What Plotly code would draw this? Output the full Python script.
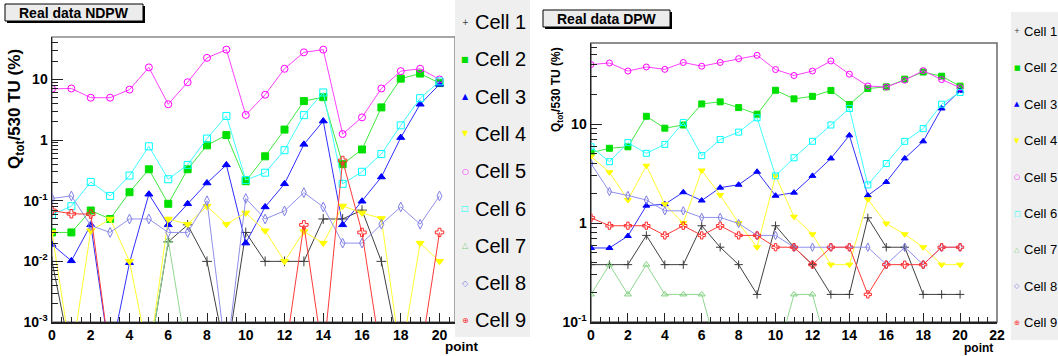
import plotly.graph_objects as go

W, H = 1058, 356

# ---------------- data ----------------
points = list(range(21))
cell_names = ["Cell 1", "Cell 2", "Cell 3", "Cell 4", "Cell 5", "Cell 6", "Cell 7", "Cell 8", "Cell 9"]

# Real data NDPW (left panel), Q_tot/530 TU (%) ; 0 = no charge (off the log scale)
ndpw_cell1 = [0.01, 0, 0, 0, 0, 0, 0.021, 0.04, 0.01, 0, 0.03, 0.01, 0.01, 0.01, 0.05, 0.05, 0.07, 0.01, 0, 0, 0]
ndpw_cell2 = [0.03, 0.03, 0.069, 0.05, 0.138, 0.33, 0.089, 0.33, 0.82, 1.21, 0.21, 0.54, 1.49, 4.4, 5.1, 0.40, 0.70, 3.46, 10.3, 12.5, 8.7]
ndpw_cell3 = [0.019, 0.0102, 0.04, 0, 0.0095, 0.128, 0.04, 0.089, 0.196, 0.39, 0.02, 0.079, 0.19, 0.85, 2.06, 0.04, 0.098, 0.246, 1.1, 3.9, 8.3]
ndpw_cell4 = [0.03, 0, 0.032, 0.05, 0.01, 0, 0.05, 0.041, 0.081, 0.041, 0.063, 0.032, 0.01, 0.031, 0.02, 0.082, 0.063, 0.051, 0, 0.02, 0.01]
ndpw_cell5 = [7.0, 7.1, 5.0, 5.0, 6.8, 15.8, 3.9, 9.0, 22.7, 31, 2.6, 5.6, 15, 28, 31, 1.26, 2.37, 7.1, 13.7, 15, 10]
ndpw_cell6 = [0.059, 0.081, 0.204, 0.12, 0.26, 0.79, 0.226, 0.39, 1.06, 2.5, 0.22, 0.29, 0.68, 2.58, 6.1, 0.19, 0.30, 0.59, 1.75, 4.9, 9.3]
ndpw_cell7 = [0, 0, 0, 0, 0, 0, 0.022, 0, 0, 0, 0, 0, 0, 0, 0, 0, 0, 0, 0, 0, 0]
ndpw_cell8 = [0.109, 0.12, 0.039, 0.03, 0.05, 0.05, 0.03, 0.03, 0.1, 0, 0.109, 0.05, 0.068, 0.136, 0.079, 0.02, 0.02, 0.041, 0.079, 0.041, 0.12]
ndpw_cell9 = [0.069, 0.061, 0.06, 0, 0, 0, 0, 0, 0, 0, 0, 0, 0, 0.04, 0, 0.46, 0.03, 0, 0, 0, 0.03]

# Real data DPW (right panel)
dpw_cell1 = [0.38, 0.38, 0.38, 0.75, 0.38, 0.38, 0.94, 0.57, 0.38, 0.19, 0.94, 0.57, 0.38, 0.19, 0.19, 1.13, 0.57, 0.57, 0.19, 0.19, 0.19]
dpw_cell2 = [5.14, 5.7, 5.9, 12, 9.1, 9.8, 16, 16.8, 14.7, 12.6, 22, 18, 19.1, 21.9, 15.8, 22.9, 23.8, 28.5, 33.6, 30.5, 24.2]
dpw_cell3 = [0.56, 0.56, 0.74, 1.5, 1.55, 2.05, 1.69, 2.28, 2.44, 3.3, 1.89, 2.03, 3.0, 4.5, 7.7, 1.9, 2.6, 4.5, 6.7, 14.4, 21.7]
dpw_cell4 = [4.7, 3.26, 1.71, 3.8, 1.55, 1.0, 3.4, 1.92, 1.0, 0.57, 3.0, 1.16, 0.77, 0.38, 0.38, 1.74, 0.99, 0.77, 0.57, 0.38, 0.38]
dpw_cell5 = [40, 41.5, 34.4, 37.8, 35.8, 42, 38.5, 42, 45.9, 49.6, 35.6, 31, 34.4, 43.5, 32, 24.3, 23.7, 27.8, 34.7, 28.2, 23.4]
dpw_cell6 = [5.9, 4.17, 6.5, 5.07, 6.24, 10.4, 4.8, 7.0, 8.3, 11.6, 3.0, 4.57, 6.7, 9.8, 14.4, 2.43, 4.0, 6.7, 9.0, 15.9, 20.9]
dpw_cell7 = [0.19, 0.38, 0.19, 0.38, 0.19, 0.19, 0.19, 0, 0, 0, 0, 0.19, 0.19, 0, 0, 0, 0, 0, 0, 0, 0]
dpw_cell8 = [4.0, 2.08, 1.9, 1.71, 1.33, 1.33, 1.14, 1.14, 0.99, 0.75, 0.75, 0.57, 0.57, 0.57, 0.57, 0.57, 0.38, 0.57, 0.38, 0.57, 0.57]
dpw_cell9 = [1.13, 0.94, 0.94, 0.94, 0.75, 0.94, 0.75, 0.94, 0.75, 0.75, 0.57, 0.57, 0.38, 0.57, 0.57, 0.19, 0.38, 0.38, 0.38, 0.57, 0.57]

left_ticks_x = list(range(0, 21, 2))
right_ticks_x = list(range(0, 23, 2))
left_ticks_y = [0.001, 0.01, 0.1, 1, 10]
left_ticktext_y = ["10<sup>-3</sup>", "10<sup>-2</sup>", "10<sup>-1</sup>", "1", "10"]
right_ticks_y = [0.1, 1, 10]
right_ticktext_y = ["10<sup>-1</sup>", "1", "10"]

ndpw_series = [ndpw_cell1, ndpw_cell2, ndpw_cell3, ndpw_cell4, ndpw_cell5, ndpw_cell6, ndpw_cell7, ndpw_cell8, ndpw_cell9]
dpw_series = [dpw_cell1, dpw_cell2, dpw_cell3, dpw_cell4, dpw_cell5, dpw_cell6, dpw_cell7, dpw_cell8, dpw_cell9]

# ---------------- styles ----------------
FONT = "Liberation Sans"
colors = ["#3a3a3a", "#00e000", "#0000ff", "#ffff00", "#ff00ff", "#00ffff", "#7fd07f", "#7f7fe6", "#ff2a2a"]
line_colors = ["#404040", "#40e840", "#3030ff", "#ffff30", "#ff40ff", "#40ffff", "#90d890", "#9090ec", "#ff3a3a"]
symbols = ["cross-thin", "square", "triangle-up", "triangle-down", "circle-open",
           "square-open", "triangle-up-open", "diamond-tall-open", "cross-open"]
legend_glyphs = ["+", "\u25A0", "\u25B2", "\u25BC", "\u25CB", "\u25A1", "\u25B3", "\u25C7", "\u2295"]

LEFT_FLOOR = 10 ** -3.6
RIGHT_FLOOR = 10 ** -1.4


def to_plot(vals, floor):
    return [v if v > 0 else floor for v in vals]


def px(xp):
    return xp / W


def py(yp):
    return 1 - yp / H


fig = go.Figure()

for i, name in enumerate(cell_names):
    fig.add_trace(go.Scatter(
        x=points, y=to_plot(ndpw_series[i], LEFT_FLOOR), name=name, mode="lines+markers",
        xaxis="x", yaxis="y", showlegend=False,
        line=dict(color=line_colors[i], width=1),
        marker=dict(symbol=symbols[i], size=7, color=colors[i],
                    line=dict(color=colors[i], width=1)),
    ))
for i, name in enumerate(cell_names):
    fig.add_trace(go.Scatter(
        x=points, y=to_plot(dpw_series[i], RIGHT_FLOOR), name=name, mode="lines+markers",
        xaxis="x2", yaxis="y2", showlegend=False,
        line=dict(color=line_colors[i], width=1),
        marker=dict(symbol=symbols[i], size=6, color=colors[i],
                    line=dict(color=colors[i], width=1)),
    ))

tickfont = dict(family=FONT, size=14, color="black", weight="bold")


def minor_log(lo, hi):
    vals = []
    for e in range(lo, hi + 1):
        for m in range(2, 10):
            vals.append(m * 10 ** e)
    return vals


common_x = dict(showgrid=False, zeroline=False, showline=True, linecolor="#222222", linewidth=1.5,
                ticks="inside", ticklen=9, tickwidth=1, tickcolor="#222222", tickfont=tickfont,
                minor=dict(ticks="inside", dtick=0.5, ticklen=5, tickwidth=1, tickcolor="#222222", showgrid=False))
common_y = dict(type="log", showgrid=False, zeroline=False, showline=True, linecolor="#222222", linewidth=1.5,
                ticks="inside", ticklen=11, tickwidth=1, tickcolor="#222222", tickfont=tickfont,
                tickmode="array")

fig.update_layout(
    width=W, height=H,
    margin=dict(l=0, r=0, t=0, b=0, autoexpand=False),
    paper_bgcolor="white", plot_bgcolor="white",
    showlegend=False, hovermode=False,
    xaxis=dict(domain=[px(52), px(455)], range=[0, 20.8], anchor="y",
               tickmode="array", tickvals=left_ticks_x, **common_x),
    yaxis=dict(domain=[py(322), py(37)], range=[-3, 1.7], anchor="x",
               tickvals=left_ticks_y, ticktext=left_ticktext_y,
               minor=dict(ticks="inside", tickmode="array", tickvals=minor_log(-3, 1), ticklen=6,
                          tickwidth=1, tickcolor="#222222", showgrid=False),
               **common_y),
    xaxis2=dict(domain=[px(591), px(997)], range=[0, 22], anchor="y2",
                tickmode="array", tickvals=right_ticks_x, **common_x),
    yaxis2=dict(domain=[py(322), py(43)], range=[-1, 1.82], anchor="x2",
                tickvals=right_ticks_y, ticktext=right_ticktext_y,
                minor=dict(ticks="inside", tickmode="array", tickvals=minor_log(-1, 1), ticklen=6,
                           tickwidth=1, tickcolor="#222222", showgrid=False),
                **common_y),
)

shapes = []
# plot frames
shapes.append(dict(type="rect", xref="x domain", yref="y domain", x0=0, x1=1, y0=0, y1=1,
                   line=dict(color="#8a8a8a", width=1.5), layer="below"))
shapes.append(dict(type="rect", xref="x2 domain", yref="y2 domain", x0=0, x1=1, y0=0, y1=1,
                   line=dict(color="#6a6a6a", width=1.5), layer="below"))
# legend boxes
shapes.append(dict(type="rect", xref="paper", yref="paper", x0=px(455), x1=px(530), y0=py(337), y1=py(0),
                   fillcolor="#efefef", line=dict(width=0), layer="above"))
shapes.append(dict(type="rect", xref="paper", yref="paper", x0=px(1011), x1=px(1058), y0=py(340), y1=py(12),
                   fillcolor="#efefef", line=dict(width=0), layer="above"))
# title boxes with shadow
for (x0, y0, x1, y1) in [(5, 4, 143, 21), (543, 10, 670, 27)]:
    shapes.append(dict(type="rect", xref="paper", yref="paper", x0=px(x0 + 2), x1=px(x1 + 2),
                       y0=py(y1 + 2), y1=py(y0 + 2), fillcolor="#000000", line=dict(width=0), layer="above"))
    shapes.append(dict(type="rect", xref="paper", yref="paper", x0=px(x0), x1=px(x1),
                       y0=py(y1), y1=py(y0), fillcolor="#ececec", line=dict(color="#000000", width=1), layer="above"))
fig.update_layout(shapes=shapes)

ann = []
ann.append(dict(text="<b>Real data NDPW</b>", x=px(74), y=py(13), xref="paper", yref="paper",
                showarrow=False, xanchor="center", yanchor="middle", font=dict(family=FONT, size=14, color="black")))
ann.append(dict(text="<b>Real data DPW</b>", x=px(607), y=py(19), xref="paper", yref="paper",
                showarrow=False, xanchor="center", yanchor="middle", font=dict(family=FONT, size=14, color="black")))
# axis titles
ann.append(dict(text="<b>Q<sub>tot</sub>/530 TU (%)</b>", x=px(16), y=py(109), xref="paper", yref="paper",
                showarrow=False, textangle=-90, xanchor="center", yanchor="middle",
                font=dict(family=FONT, size=17, color="black")))
ann.append(dict(text="<b>Q<sub>tot</sub>/530 TU (%)</b>", x=px(557), y=py(90), xref="paper", yref="paper",
                showarrow=False, textangle=-90, xanchor="center", yanchor="middle",
                font=dict(family=FONT, size=12, color="black")))
ann.append(dict(text="<b>point</b>", x=px(461), y=py(346), xref="paper", yref="paper", borderpad=0,
                showarrow=False, xanchor="center", yanchor="middle", font=dict(family=FONT, size=13.5, color="black")))
ann.append(dict(text="<b>point</b>", x=px(978), y=py(348), xref="paper", yref="paper", borderpad=0,
                showarrow=False, xanchor="center", yanchor="middle", font=dict(family=FONT, size=12, color="black")))

# legends
for i, name in enumerate(cell_names):
    yl = 22 + 37.3 * i
    ann.append(dict(text=legend_glyphs[i], x=px(465), y=py(yl), xref="paper", yref="paper", showarrow=False,
                    borderpad=0, xanchor="center", yanchor="middle",
                    font=dict(family="DejaVu Sans", size=8, color=colors[i])))
    ann.append(dict(text=name, x=px(474), y=py(yl), xref="paper", yref="paper", showarrow=False,
                    borderpad=0, xanchor="left", yanchor="middle", font=dict(family=FONT, size=20, color="black")))
    yr = 31.5 + 36.4 * i
    ann.append(dict(text=legend_glyphs[i], x=px(1017), y=py(yr), xref="paper", yref="paper", showarrow=False,
                    borderpad=0, xanchor="center", yanchor="middle",
                    font=dict(family="DejaVu Sans", size=7, color=colors[i])))
    ann.append(dict(text=name, x=px(1023), y=py(yr), xref="paper", yref="paper", showarrow=False,
                    borderpad=0, xanchor="left", yanchor="middle", font=dict(family=FONT, size=13, color="black")))
fig.update_layout(annotations=ann)

fig.write_html("out.html",
               config={"displayModeBar": False, "staticPlot": True},
               post_script="document.body.style.margin='0px';document.body.style.padding='0px';"
                           "document.documentElement.style.overflow='hidden';")
